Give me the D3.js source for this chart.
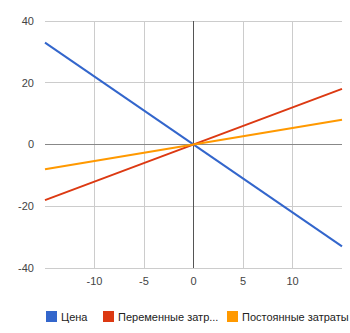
<!DOCTYPE html>
<html>
<head>
<meta charset="utf-8">
<script src="https://cdn.jsdelivr.net/npm/d3@7"></script>
<style>
  body { margin: 0; background: #fff; }
  text { font-family: "Liberation Sans", Arial, sans-serif; }
</style>
</head>
<body>
<svg width="350" height="333"></svg>
<script>
// data
var xValues = [-15, 15];
var price = [33, -33];
var variableCosts = [-18, 18];
var fixedCosts = [-8, 8];
var seriesNames = ["Цена", "Переменные затр...", "Постоянные затраты"];
var seriesColors = ["#3366cc", "#dc3912", "#ff9900"];
var xTicks = [-10, -5, 0, 5, 10];
var yTicks = [-40, -20, 0, 20, 40];

var svg = d3.select("svg"),
    margin = {top: 21, right: 8, bottom: 65, left: 45},
    width = +svg.attr("width") - margin.left - margin.right,
    height = +svg.attr("height") - margin.top - margin.bottom;

var x = d3.scaleLinear().domain([-15, 15]).range([0, width]),
    y = d3.scaleLinear().domain([-40, 40]).range([height, 0]);

var g = svg.append("g")
    .attr("transform", "translate(" + margin.left + "," + margin.top + ")");

// gridlines
g.selectAll(".hgrid").data(yTicks.filter(function(d) { return d !== 0; }))
  .enter().append("line")
    .attr("x1", 0).attr("x2", width)
    .attr("y1", function(d) { return y(d); })
    .attr("y2", function(d) { return y(d); })
    .attr("stroke", "#cccccc").attr("stroke-width", 1)
    .attr("shape-rendering", "crispEdges");

g.selectAll(".vgrid").data(xTicks.filter(function(d) { return d !== 0; }))
  .enter().append("line")
    .attr("y1", 0).attr("y2", height)
    .attr("x1", function(d) { return x(d); })
    .attr("x2", function(d) { return x(d); })
    .attr("stroke", "#cccccc").attr("stroke-width", 1)
    .attr("shape-rendering", "crispEdges");

// zero lines
g.append("line")
    .attr("x1", 0).attr("x2", width)
    .attr("y1", y(0)).attr("y2", y(0))
    .attr("stroke", "#888888").attr("shape-rendering", "crispEdges");
g.append("line")
    .attr("y1", 0).attr("y2", height)
    .attr("x1", x(0)).attr("x2", x(0))
    .attr("stroke", "#555555").attr("shape-rendering", "crispEdges");

// tick labels
g.selectAll(".ylab").data(yTicks)
  .enter().append("text")
    .attr("x", -11)
    .attr("y", function(d) { return y(d); })
    .attr("dy", "0.35em")
    .attr("text-anchor", "end")
    .attr("font-size", 11)
    .attr("fill", "#444")
    .text(function(d) { return d; });

g.selectAll(".xlab").data(xTicks)
  .enter().append("text")
    .attr("x", function(d) { return x(d); })
    .attr("y", height + 17)
    .attr("text-anchor", "middle")
    .attr("font-size", 11)
    .attr("fill", "#444")
    .text(function(d) { return d; });

// lines
var series = [price, variableCosts, fixedCosts];
var line = d3.line()
    .x(function(d, i) { return x(xValues[i]); })
    .y(function(d) { return y(d); });

g.selectAll(".series").data(series)
  .enter().append("path")
    .attr("d", line)
    .attr("fill", "none")
    .attr("stroke", function(d, i) { return seriesColors[i]; })
    .attr("stroke-width", 2);

// legend
var legendX = [46, 103, 227];
var legend = svg.selectAll(".legend").data(seriesNames)
  .enter().append("g")
    .attr("transform", function(d, i) { return "translate(" + legendX[i] + ",311)"; });
legend.append("rect")
    .attr("width", 11).attr("height", 11)
    .attr("fill", function(d, i) { return seriesColors[i]; });
legend.append("text")
    .attr("x", 15).attr("y", 9.5)
    .attr("font-size", 11)
    .attr("fill", "#222")
    .text(function(d) { return d; });
</script>
</body>
</html>
